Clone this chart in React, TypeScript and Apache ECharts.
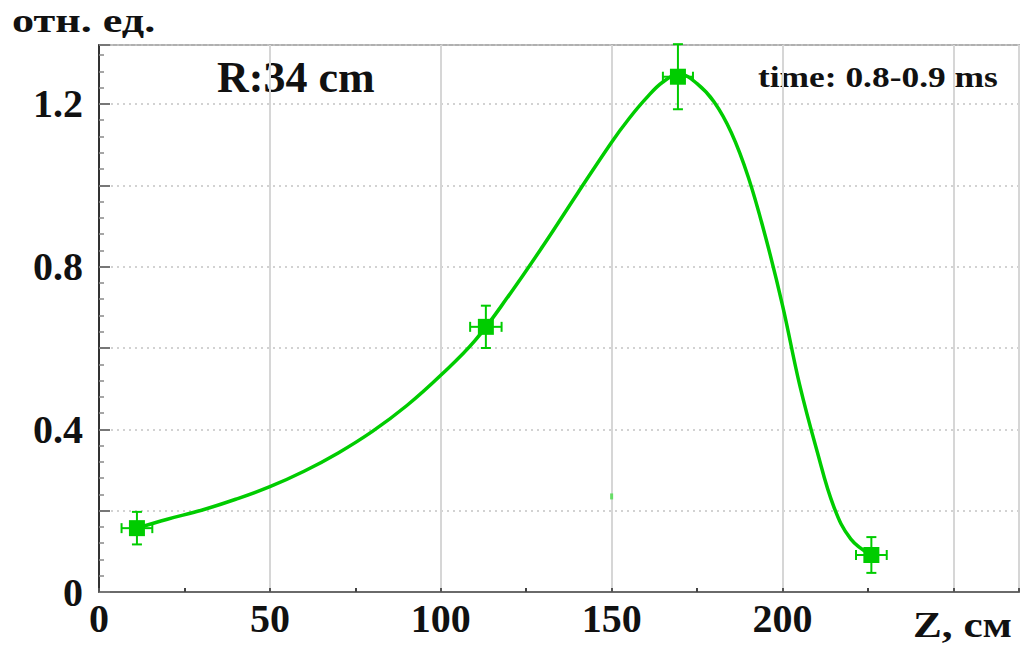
import React, { useEffect, useRef } from "react";
import * as echarts from "echarts";

// measured points (Z, cm) and relative units
const pointX = [11.1, 113.2, 169.4, 226.0];
const pointY = [0.157, 0.652, 1.267, 0.091];
const errX = [4.5, 4.6, 4.4, 4.5];
const errY = [0.04, 0.052, 0.08, 0.044];

// fitted curve
const curveX = [11.1, 20, 30, 40, 50, 60, 70, 80, 90, 100, 110, 120, 130, 140, 150, 155, 160, 165, 170, 175, 180, 185, 190, 195, 200, 205, 210, 215, 220, 226];
const curveY = [0.157, 0.179, 0.201, 0.228, 0.259, 0.297, 0.342, 0.395, 0.458, 0.533, 0.618, 0.73, 0.852, 0.98, 1.106, 1.163, 1.213, 1.254, 1.273, 1.25, 1.205, 1.13, 1.02, 0.874, 0.705, 0.51, 0.35, 0.21, 0.13, 0.091];

// stray mark in the original
const strayX = [150];
const strayY = [0.235];

const xLabels = [0, 50, 100, 150, 200];
const yLabels = [0, 0.4, 0.8, 1.2];

const yTitle = "отн. ед.";
const xTitle = "Z, см";
const noteR = "R:34 cm";
const noteTime = "time: 0.8-0.9 ms";

const GREEN = "#00cc00";
const FONT = "'Liberation Serif', 'DejaVu Serif', serif";

export default function App() {
  const ref = useRef<HTMLDivElement>(null);
  useEffect(() => {
    if (!ref.current) return;
    const chart = echarts.init(ref.current, undefined, { renderer: "svg" });
    const errData = pointX.map((x, i) => [x, pointY[i], errX[i], errY[i]]);
    chart.setOption({
      animation: false,
      backgroundColor: "#ffffff",
      grid: {
        left: 99,
        right: 1,
        top: 45,
        bottom: 55,
        show: true,
        borderColor: "#b0b0b0",
        borderWidth: 2,
        backgroundColor: "transparent",
      },
      xAxis: {
        type: "value",
        min: 0,
        max: 269.2,
        interval: 50,
        axisLine: { show: true, onZero: false, lineStyle: { color: "#6a6a6a", width: 2 } },
        axisTick: { show: true, inside: true, length: 4, lineStyle: { color: "#555", width: 2 } },
        minorTick: { show: true, splitNumber: 2, length: 4, lineStyle: { color: "#444", width: 2 } },
        splitLine: { show: true, lineStyle: { color: "#d6d6d6", width: 2, type: "solid" } },
        axisLabel: {
          fontFamily: FONT,
          fontWeight: "bold",
          fontSize: 40,
          color: "#111",
          margin: 6,
          formatter: (v: number) => (xLabels.indexOf(v) >= 0 ? String(v) : ""),
        },
      },
      yAxis: {
        type: "value",
        min: 0,
        max: 1.345,
        interval: 0.2,
        axisLine: { show: true, onZero: false, lineStyle: { color: "#333", width: 2 } },
        axisTick: { show: true, inside: true, length: 11, lineStyle: { color: "#777", width: 2 } },
        minorTick: { show: true, splitNumber: 5, length: 5, lineStyle: { color: "#888", width: 1.5 } },
        splitLine: { show: true, lineStyle: { color: "#c4c4c4", width: 1.5, type: [2, 4] } },
        axisLabel: {
          fontFamily: FONT,
          fontWeight: "bold",
          fontSize: 40,
          color: "#111",
          margin: 16,
          formatter: (v: number) => {
            const r = Math.round(v * 10) / 10;
            return yLabels.some((l) => Math.abs(l - r) < 1e-6) && Math.abs(v - r) < 1e-6 ? (r === 0 ? "0" : r.toFixed(1)) : "";
          },
        },
      },
      series: [
        {
          type: "line",
          data: curveX.map((x, i) => [x, curveY[i]]),
          smooth: 0.4,
          showSymbol: false,
          lineStyle: { color: GREEN, width: 3.5 },
          z: 3,
        },
        {
          type: "custom",
          data: errData,
          z: 4,
          renderItem: (params: any, api: any) => {
            const x = api.value(0);
            const y = api.value(1);
            const ex = api.value(2);
            const ey = api.value(3);
            const top = api.coord([x, y + ey]);
            const bot = api.coord([x, y - ey]);
            const lef = api.coord([x - ex, y]);
            const rig = api.coord([x + ex, y]);
            const cap = 5;
            const st = { stroke: GREEN, lineWidth: 2 };
            return {
              type: "group",
              children: [
                { type: "line", shape: { x1: top[0], y1: top[1], x2: bot[0], y2: bot[1] }, style: st },
                { type: "line", shape: { x1: top[0] - cap, y1: top[1], x2: top[0] + cap, y2: top[1] }, style: st },
                { type: "line", shape: { x1: bot[0] - cap, y1: bot[1], x2: bot[0] + cap, y2: bot[1] }, style: st },
                { type: "line", shape: { x1: lef[0], y1: lef[1], x2: rig[0], y2: rig[1] }, style: st },
                { type: "line", shape: { x1: lef[0], y1: lef[1] - cap, x2: lef[0], y2: lef[1] + cap }, style: st },
                { type: "line", shape: { x1: rig[0], y1: rig[1] - cap, x2: rig[0], y2: rig[1] + cap }, style: st },
              ],
            };
          },
        },
        {
          type: "scatter",
          data: pointX.map((x, i) => [x, pointY[i]]),
          symbol: "rect",
          symbolSize: 16,
          itemStyle: { color: GREEN, opacity: 1 },
          z: 5,
        },
        {
          type: "scatter",
          data: strayX.map((x, i) => [x, strayY[i]]),
          symbol: "rect",
          symbolSize: [3, 6],
          itemStyle: { color: "#66dd66", opacity: 1 },
          z: 5,
        },
      ],
      graphic: [
        {
          type: "text",
          left: 12,
          top: 4,
          style: { text: yTitle, fontFamily: FONT, fontWeight: "bold", fontSize: 34, fill: "#111" },
          scaleX: 1.3,
        },
        {
          type: "text",
          left: 217,
          top: 55,
          style: { text: noteR, fontFamily: FONT, fontWeight: "bold", fontSize: 44, fill: "#111" },
        },
        {
          type: "text",
          left: 758,
          top: 62,
          style: { text: noteTime, fontFamily: FONT, fontWeight: "bold", fontSize: 30, fill: "#111" },
          scaleX: 1.18,
        },
        {
          type: "text",
          left: 913,
          top: 607,
          style: { text: xTitle, fontFamily: FONT, fontWeight: "bold", fontSize: 36, fill: "#111" },
          scaleX: 1.2,
        },
      ],
    });
    return () => chart.dispose();
  }, []);
  return (
    <div
      ref={ref}
      style={{ position: "fixed", left: 0, top: 0, width: 1022, height: 647, background: "#fff" }}
    />
  );
}
